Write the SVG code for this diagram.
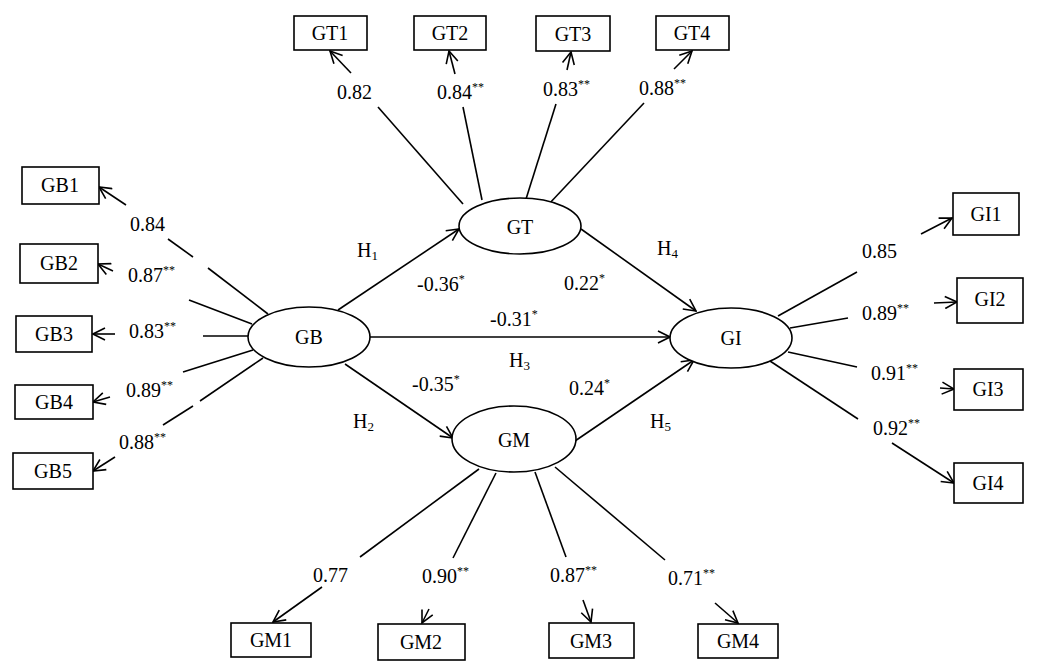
<svg xmlns="http://www.w3.org/2000/svg" width="1043" height="664" viewBox="0 0 1043 664">
<style>
.box{fill:#fff;stroke:#000;stroke-width:1.6}
.ell{fill:#fff;stroke:#000;stroke-width:1.6}
.t{font-family:"Liberation Serif","Times New Roman",serif;font-size:20px;fill:#000}
.c{text-anchor:middle}
.ln{stroke:#000;stroke-width:1.6;fill:none}
.ar{marker-end:url(#ah)}
.sup{font-size:12px}
.sub{font-size:13px}
</style>
<defs>
<marker id="ah" viewBox="0 0 14 14" refX="13" refY="7" markerWidth="14" markerHeight="14" markerUnits="userSpaceOnUse" orient="auto">
<path d="M1,1 L13,7 L1,13" fill="none" stroke="#000" stroke-width="1.6"/>
</marker>
</defs>
<rect width="1043" height="664" fill="#fff"/>
<g id="connectors">
<line class="ln ar" x1="338" y1="310" x2="459" y2="229"/>
<line class="ln ar" x1="581" y1="229" x2="696" y2="311"/>
<line class="ln ar" x1="370" y1="337" x2="670" y2="337"/>
<line class="ln ar" x1="345" y1="364" x2="453" y2="438"/>
<line class="ln ar" x1="575" y1="441" x2="694" y2="360"/>
<line class="ln" x1="463" y1="204" x2="378" y2="107"/>
<line class="ln ar" x1="351" y1="73" x2="330" y2="51"/>
<line class="ln" x1="482" y1="200" x2="463" y2="107"/>
<line class="ln ar" x1="455" y1="74" x2="449" y2="51"/>
<line class="ln" x1="526" y1="199" x2="556" y2="104"/>
<line class="ln ar" x1="567" y1="70" x2="571" y2="52"/>
<line class="ln" x1="548" y1="205" x2="644" y2="103"/>
<line class="ln ar" x1="674" y1="69" x2="692" y2="51"/>
<line class="ln" x1="268" y1="314" x2="208" y2="268"/>
<line class="ln" x1="193" y1="257" x2="168" y2="239"/>
<line class="ln ar" x1="126" y1="205" x2="99" y2="187"/>
<line class="ln" x1="252" y1="324" x2="189" y2="300"/>
<line class="ln ar" x1="113" y1="271" x2="98" y2="264"/>
<line class="ln" x1="248" y1="336" x2="203" y2="336"/>
<line class="ln ar" x1="115" y1="334" x2="93" y2="334"/>
<line class="ln" x1="253" y1="350" x2="183" y2="372"/>
<line class="ln ar" x1="110" y1="397" x2="93" y2="402"/>
<line class="ln" x1="263" y1="358" x2="200" y2="401"/>
<line class="ln" x1="193" y1="406" x2="163" y2="425"/>
<line class="ln ar" x1="115" y1="457" x2="93" y2="471"/>
<line class="ln" x1="778" y1="316" x2="857" y2="272"/>
<line class="ln ar" x1="921" y1="234" x2="952" y2="218"/>
<line class="ln" x1="790" y1="328" x2="848" y2="318"/>
<line class="ln ar" x1="934" y1="303" x2="957" y2="302"/>
<line class="ln" x1="788" y1="352" x2="857" y2="367"/>
<line class="ln ar" x1="940" y1="388" x2="954" y2="389"/>
<line class="ln" x1="770" y1="361" x2="858" y2="419"/>
<line class="ln ar" x1="892" y1="443" x2="954" y2="483"/>
<line class="ln" x1="479" y1="469" x2="360" y2="557"/>
<line class="ln ar" x1="322" y1="587" x2="273" y2="622"/>
<line class="ln" x1="496" y1="473" x2="453" y2="558"/>
<line class="ln ar" x1="429" y1="609" x2="422" y2="623"/>
<line class="ln" x1="535" y1="472" x2="566" y2="557"/>
<line class="ln ar" x1="583" y1="600" x2="591" y2="622"/>
<line class="ln" x1="555" y1="467" x2="665" y2="560"/>
<line class="ln ar" x1="715" y1="603" x2="738" y2="623"/>
<text class="t" x="337" y="99">0.82</text>
<text class="t" x="437" y="99">0.84<tspan class="sup" dy="-8">**</tspan></text>
<text class="t" x="543" y="96">0.83<tspan class="sup" dy="-8">**</tspan></text>
<text class="t" x="639" y="95">0.88<tspan class="sup" dy="-8">**</tspan></text>
<text class="t" x="130" y="231">0.84</text>
<text class="t" x="128" y="282">0.87<tspan class="sup" dy="-8">**</tspan></text>
<text class="t" x="129" y="338">0.83<tspan class="sup" dy="-8">**</tspan></text>
<text class="t" x="126" y="397">0.89<tspan class="sup" dy="-8">**</tspan></text>
<text class="t" x="119" y="449">0.88<tspan class="sup" dy="-8">**</tspan></text>
<text class="t" x="862" y="258">0.85</text>
<text class="t" x="862" y="320">0.89<tspan class="sup" dy="-8">**</tspan></text>
<text class="t" x="871" y="380">0.91<tspan class="sup" dy="-8">**</tspan></text>
<text class="t" x="873" y="435">0.92<tspan class="sup" dy="-8">**</tspan></text>
<text class="t" x="313" y="582">0.77</text>
<text class="t" x="422" y="583">0.90<tspan class="sup" dy="-8">**</tspan></text>
<text class="t" x="550" y="582">0.87<tspan class="sup" dy="-8">**</tspan></text>
<text class="t" x="668" y="585">0.71<tspan class="sup" dy="-8">**</tspan></text>
<text class="t" x="417" y="291">-0.36<tspan class="sup" dy="-8">*</tspan></text>
<text class="t" x="564" y="290">0.22<tspan class="sup" dy="-8">*</tspan></text>
<text class="t" x="490" y="326">-0.31<tspan class="sup" dy="-8">*</tspan></text>
<text class="t" x="412" y="391">-0.35<tspan class="sup" dy="-8">*</tspan></text>
<text class="t" x="569" y="395">0.24<tspan class="sup" dy="-8">*</tspan></text>
<text class="t" x="357" y="257">H<tspan class="sub" dy="3">1</tspan></text>
<text class="t" x="657" y="255">H<tspan class="sub" dy="3">4</tspan></text>
<text class="t" x="509" y="367">H<tspan class="sub" dy="3">3</tspan></text>
<text class="t" x="353" y="428">H<tspan class="sub" dy="3">2</tspan></text>
<text class="t" x="650" y="428">H<tspan class="sub" dy="3">5</tspan></text>
</g>
<g id="GT"><ellipse class="ell" cx="520" cy="226" rx="61" ry="28"/><text class="t c" x="520" y="234">GT</text></g>
<g id="GB"><ellipse class="ell" cx="309" cy="337" rx="61" ry="30"/><text class="t c" x="309" y="344">GB</text></g>
<g id="GI"><ellipse class="ell" cx="731" cy="338" rx="61" ry="30"/><text class="t c" x="731" y="345">GI</text></g>
<g id="GM"><ellipse class="ell" cx="514" cy="439" rx="62" ry="33"/><text class="t c" x="514" y="447">GM</text></g>
<g id="GT1"><rect class="box" x="294" y="16" width="73" height="34"/><text class="t c" x="330" y="40">GT1</text></g>
<g id="GT2"><rect class="box" x="414" y="16" width="72" height="34"/><text class="t c" x="450" y="40">GT2</text></g>
<g id="GT3"><rect class="box" x="536" y="16" width="74" height="35"/><text class="t c" x="573" y="41">GT3</text></g>
<g id="GT4"><rect class="box" x="656" y="16" width="73" height="34"/><text class="t c" x="692" y="40">GT4</text></g>
<g id="GB1"><rect class="box" x="22" y="167" width="77" height="37"/><text class="t c" x="60" y="192">GB1</text></g>
<g id="GB2"><rect class="box" x="20" y="244" width="78" height="39"/><text class="t c" x="59" y="270">GB2</text></g>
<g id="GB3"><rect class="box" x="16" y="316" width="76" height="36"/><text class="t c" x="54" y="341">GB3</text></g>
<g id="GB4"><rect class="box" x="15" y="385" width="78" height="34"/><text class="t c" x="54" y="409">GB4</text></g>
<g id="GB5"><rect class="box" x="13" y="453" width="80" height="36"/><text class="t c" x="53" y="478">GB5</text></g>
<g id="GI1"><rect class="box" x="953" y="193" width="66" height="42"/><text class="t c" x="986" y="221">GI1</text></g>
<g id="GI2"><rect class="box" x="957" y="278" width="66" height="45"/><text class="t c" x="990" y="306">GI2</text></g>
<g id="GI3"><rect class="box" x="954" y="369" width="69" height="41"/><text class="t c" x="988" y="396">GI3</text></g>
<g id="GI4"><rect class="box" x="954" y="463" width="69" height="40"/><text class="t c" x="988" y="490">GI4</text></g>
<g id="GM1"><rect class="box" x="231" y="623" width="80" height="34"/><text class="t c" x="271" y="647">GM1</text></g>
<g id="GM2"><rect class="box" x="378" y="624" width="87" height="36"/><text class="t c" x="421" y="649">GM2</text></g>
<g id="GM3"><rect class="box" x="549" y="623" width="85" height="35"/><text class="t c" x="591" y="648">GM3</text></g>
<g id="GM4"><rect class="box" x="698" y="624" width="80" height="34"/><text class="t c" x="738" y="648">GM4</text></g>
</svg>
